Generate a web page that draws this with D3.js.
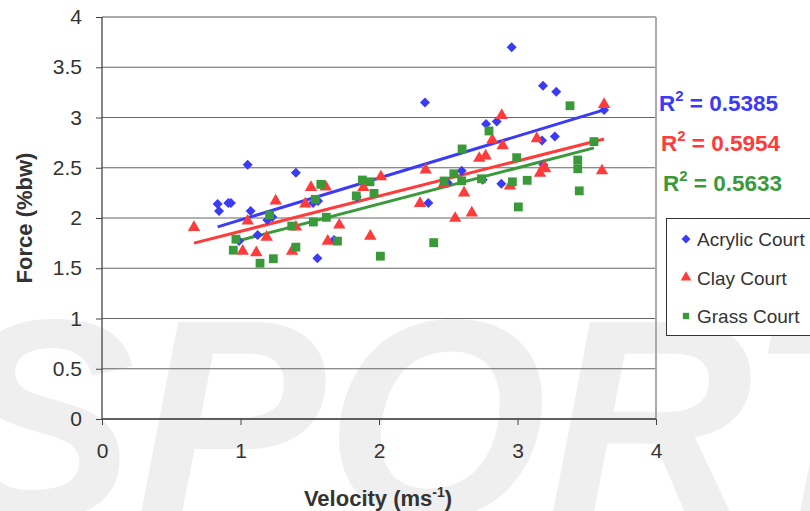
<!DOCTYPE html>
<html>
<head>
<meta charset="utf-8">
<script src="https://cdnjs.cloudflare.com/ajax/libs/d3/7.8.5/d3.min.js"></script>
<style>
  body { margin: 0; background: #fff; }
  svg { display: block; font-family: "Liberation Sans", Arial, sans-serif; }
</style>
</head>
<body>
<div class="container"></div>
<script>
// velocity (ms-1) / force (%bw)
var acrylicV = [0.835,0.845,0.912,0.931,0.99,1.052,1.073,1.124,1.194,1.23,1.40,1.524,1.555,1.56,1.675,1.84,2.332,2.356,2.496,2.597,2.749,2.773,2.85,2.883,2.958,3.177,3.184,3.187,3.27,3.28,3.625];
var acrylicF = [2.14,2.07,2.15,2.15,1.77,2.53,2.07,1.83,1.98,2.01,2.45,2.15,1.60,2.17,1.78,2.21,3.15,2.15,2.35,2.47,2.38,2.935,2.96,2.34,3.70,2.77,3.317,2.53,2.81,3.257,3.075];

var clayV = [0.664,1.016,1.052,1.114,1.189,1.254,1.372,1.40,1.468,1.509,1.615,1.63,1.713,1.887,1.937,2.014,2.296,2.337,2.47,2.55,2.614,2.67,2.724,2.77,2.818,2.886,2.893,2.946,3.139,3.162,3.19,3.2,3.61,3.625];
var clayF = [1.907,1.67,1.97,1.655,1.81,2.17,1.67,1.91,2.14,2.305,2.31,1.77,1.93,2.305,1.82,2.41,2.146,2.478,2.345,1.997,2.25,2.05,2.594,2.617,2.776,3.02,2.72,2.32,2.79,2.445,2.51,2.49,2.47,3.13];

var grassV = [0.948,0.967,1.141,1.21,1.237,1.37,1.40,1.526,1.54,1.58,1.62,1.70,1.836,1.88,1.935,1.964,2.01,2.395,2.47,2.54,2.597,2.60,2.74,2.794,2.963,2.994,3.006,3.07,3.379,3.435,3.435,3.446,3.552];
var grassF = [1.68,1.79,1.55,2.03,1.595,1.92,1.71,1.96,2.186,2.335,2.007,1.77,2.22,2.378,2.36,2.245,1.62,1.755,2.368,2.44,2.37,2.687,2.39,2.866,2.36,2.60,2.11,2.375,3.117,2.577,2.49,2.27,2.76];

var seriesNames = ["Acrylic Court","Clay Court","Grass Court"];
var trendSlope = [0.417, 0.35, 0.36];
var trendIntercept = [1.564, 1.518, 1.419];
var rSquared = ["0.5385","0.5954","0.5633"];
var xTicks = [0,1,2,3,4];
var yTicks = [0,0.5,1,1.5,2,2.5,3,3.5,4];

var colors = ["#3b3bf5","#ff3b3b","#3a9a3a"];
// diamond = square turned 45 degrees
var symbols = [d3.symbolSquare, d3.symbolTriangle, d3.symbolSquare];
var turn = [45, 0, 0];

var width = 810;
var height = 511;

var svg = d3.select(".container")
  .append("svg")
  .attr("width", width)
  .attr("height", height);

// watermark behind everything
svg.append("text")
  .attr("x", -55)
  .attr("y", 518)
  .attr("font-size", 285)
  .attr("font-style", "italic")
  .attr("font-weight", "bold")
  .attr("fill", "#efefef")
  .text("SPORT");

var x = d3.scaleLinear().domain([0, 4]).range([102, 656]);
var y = d3.scaleLinear().domain([0, 4]).range([419, 17]);

// gridlines
svg.append("g")
  .selectAll("line")
  .data(yTicks)
  .enter().append("line")
  .attr("x1", x(0)).attr("x2", x(4))
  .attr("y1", function (d) { return y(d); })
  .attr("y2", function (d) { return y(d); })
  .attr("stroke", function (d) { return d == 4 ? "#aaa" : "#666"; })
  .attr("stroke-width", function (d) { return d == 4 ? 2 : 1.2; });

// right side of plot area
svg.append("line")
  .attr("x1", x(4)).attr("x2", x(4))
  .attr("y1", y(4)).attr("y2", y(0))
  .attr("stroke", "#aaa").attr("stroke-width", 2);

// axes
var yAxis = svg.append("g")
  .attr("transform", "translate(" + x(0) + ",0)")
  .call(d3.axisLeft(y).tickValues(yTicks).tickSize(6).tickPadding(14).tickFormat(d3.format("")));

var xAxis = svg.append("g")
  .attr("transform", "translate(0," + y(0) + ")")
  .call(d3.axisBottom(x).tickValues(xTicks).tickSize(6).tickPadding(18).tickFormat(d3.format("d")));

[xAxis, yAxis].forEach(function (a) {
  a.select(".domain").attr("stroke", "#444").attr("stroke-width", 1.3);
  a.selectAll(".tick line").attr("stroke", "#444");
  a.selectAll("text")
    .attr("font-size", 21)
    .attr("fill", "#333")
    .attr("font-family", "Liberation Sans, Arial, sans-serif");
});
yAxis.select(".domain").attr("d", "M0," + y(4) + "V" + y(0));
xAxis.select(".domain").attr("d", "M" + x(0) + ",0H" + x(4));

// axis titles
svg.append("text")
  .attr("transform", "translate(32,218) rotate(-90)")
  .attr("text-anchor", "middle")
  .attr("font-size", 22)
  .attr("font-weight", "bold")
  .attr("fill", "#333")
  .text("Force (%bw)");

var xt = svg.append("text")
  .attr("x", 378)
  .attr("y", 506)
  .attr("text-anchor", "middle")
  .attr("font-size", 22)
  .attr("font-weight", "bold")
  .attr("fill", "#333");
xt.append("tspan").text("Velocity (ms");
xt.append("tspan").attr("font-size", 14).attr("dy", -9).text("-1");
xt.append("tspan").attr("dy", 9).text(")");

var allV = [acrylicV, clayV, grassV];
var allF = [acrylicF, clayF, grassF];

// trend lines
allV.forEach(function (vs, i) {
  var ends = d3.extent(vs);
  svg.append("line")
    .attr("x1", x(ends[0]))
    .attr("y1", y(trendIntercept[i] + trendSlope[i] * ends[0]))
    .attr("x2", x(ends[1]))
    .attr("y2", y(trendIntercept[i] + trendSlope[i] * ends[1]))
    .attr("stroke", colors[i])
    .attr("stroke-width", 3);
});

// markers
[0, 1, 2].forEach(function (i) {
  var pts = allV[i].map(function (v, j) { return [v, allF[i][j]]; });
  var size = i == 0 ? 50 : (i == 1 ? 66 : 78);
  svg.append("g")
    .selectAll("path")
    .data(pts)
    .enter().append("path")
    .attr("transform", function (d) { return "translate(" + x(d[0]) + "," + y(d[1]) + ") rotate(" + turn[i] + ")"; })
    .attr("d", d3.symbol().type(symbols[i]).size(size))
    .attr("fill", colors[i]);
});

// R squared labels
var rPos = [[659, 111], [661, 151], [663, 191]];
rSquared.forEach(function (r, i) {
  var t = svg.append("text")
    .attr("x", rPos[i][0])
    .attr("y", rPos[i][1])
    .attr("font-size", 22.5)
    .attr("font-weight", "bold")
    .attr("fill", colors[i]);
  t.append("tspan").text("R");
  t.append("tspan").attr("font-size", 15).attr("dy", -10).text("2");
  t.append("tspan").attr("dy", 10).text(" = " + r);
});

// legend
var legend = svg.append("g");
legend.append("rect")
  .attr("x", 666.5).attr("y", 218.5)
  .attr("width", 160).attr("height", 117)
  .attr("fill", "#fff")
  .attr("stroke", "#333");

seriesNames.forEach(function (name, i) {
  var cy = 239 + i * 38.5;
  legend.append("path")
    .attr("transform", "translate(686," + cy + ") rotate(" + turn[i] + ")")
    .attr("d", d3.symbol().type(symbols[i]).size(i == 1 ? 50 : 40))
    .attr("fill", colors[i]);
  legend.append("text")
    .attr("x", 697)
    .attr("y", cy + 7)
    .attr("font-size", 19)
    .attr("fill", "#333")
    .text(name);
});
</script>
</body>
</html>
